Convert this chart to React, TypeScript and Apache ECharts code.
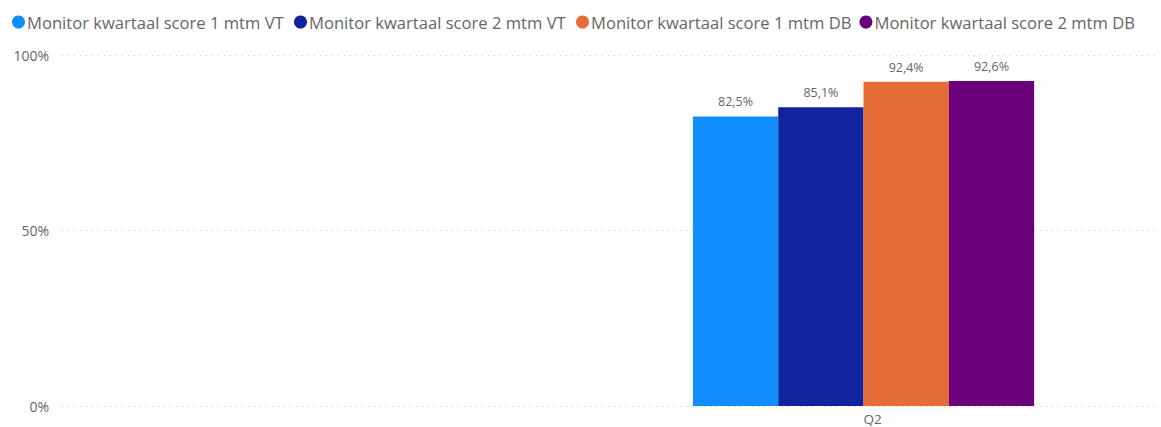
import React, { useEffect, useRef } from 'react';
import * as echarts from 'echarts';

const categories = ['', 'Q2'];
const seriesNames = [
  'Monitor kwartaal score 1 mtm VT',
  'Monitor kwartaal score 2 mtm VT',
  'Monitor kwartaal score 1 mtm DB',
  'Monitor kwartaal score 2 mtm DB',
];
const score1VT = [null, 82.5];
const score2VT = [null, 85.1];
const score1DB = [null, 92.4];
const score2DB = [null, 92.6];
const seriesValues = [score1VT, score2VT, score1DB, score2DB];
const colors = ['#118DFF', '#12239E', '#E66C37', '#6B007B'];
const yMin = 0;
const yMax = 100;
const yInterval = 50;

const FONT = '"Open Sans", "Noto Sans", sans-serif';
const fmtPct = (v: number) => v.toFixed(1).replace('.', ',') + '%';

export default function App() {
  const ref = useRef<HTMLDivElement>(null);
  useEffect(() => {
    if (!ref.current) return;
    const chart = echarts.init(ref.current, undefined, { renderer: 'svg' });
    chart.setOption({
      animation: false,
      color: colors,
      textStyle: { fontFamily: FONT },
      legend: {
        left: 12,
        top: 12,
        padding: 0,
        icon: 'circle',
        itemWidth: 13,
        itemHeight: 13,
        itemGap: 8,
        data: seriesNames,
        textStyle: {
          fontFamily: FONT,
          fontSize: 16.6,
          color: '#666666',
          width: 259,
          lineHeight: 20,
          padding: [0, 0, 0, -3],
        },
      },
      grid: [
        { left: 62, right: 6, top: 55, bottom: 21, containLabel: false },
        { left: 62, right: 30.3, top: 55, bottom: 21, containLabel: false },
      ],
      xAxis: [
        {
          type: 'category',
          gridIndex: 0,
          data: ['x'],
          show: false,
        },
        {
          type: 'category',
          gridIndex: 1,
          data: categories,
          axisLine: { show: false },
          axisTick: { show: false },
          axisLabel: {
            fontFamily: FONT,
            fontSize: 13.5,
            lineHeight: 14,
            color: '#666666',
            margin: 6,
            padding: [0, 0, 0, 18],
          },
        },
      ],
      yAxis: [
        {
          type: 'value',
          gridIndex: 0,
          min: yMin,
          max: yMax,
          interval: yInterval,
          axisLine: { show: false },
          axisTick: { show: false },
          axisLabel: {
            fontFamily: FONT,
            fontSize: 14,
            color: '#666666',
            margin: 13,
            formatter: (v: number) => v + '%',
          },
          splitLine: {
            show: true,
            lineStyle: { color: '#C8C8C8', type: [1, 5], width: 1 },
          },
        },
        {
          type: 'value',
          gridIndex: 1,
          min: yMin,
          max: yMax,
          interval: yInterval,
          show: false,
          splitLine: { show: false },
        },
      ],
      series: seriesValues.map((vals, i) => ({
        name: seriesNames[i],
        type: 'bar',
        xAxisIndex: 1,
        yAxisIndex: 1,
        data: vals.map((v) => (v === null ? '-' : v)),
        barWidth: 85.3,
        barGap: '0%',
        itemStyle: { color: colors[i] },
        label: {
          show: true,
          position: 'top',
          distance: 8,
          fontFamily: FONT,
          fontSize: 12.5,
          color: '#666666',
          formatter: (p: any) => fmtPct(p.value),
        },
      })),
    });
    return () => chart.dispose();
  }, []);
  return (
    <div
      ref={ref}
      style={{ position: 'absolute', left: 0, top: 0, width: 1161, height: 427, background: '#fff' }}
    />
  );
}
